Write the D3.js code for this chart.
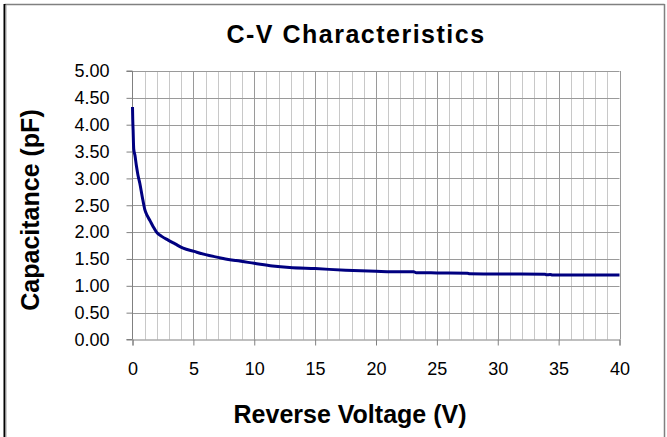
<!DOCTYPE html>
<html><head><meta charset="utf-8">
<script src="https://cdn.jsdelivr.net/npm/d3@7/dist/d3.min.js"></script>
<style>html,body{margin:0;padding:0;background:#fff;}svg{display:block;}</style>
</head><body>
<script>
const voltage = [0, 0.02, 0.05, 0.1, 0.2, 0.33, 0.45, 0.6, 0.8, 1.0, 1.2, 1.42, 1.7, 1.97, 2.4, 2.93, 3.5, 4.16, 5.06, 6.0, 7.45, 8.5, 10.0, 11.5, 12.9, 15, 17.5, 20, 22.0, 23.1, 23.3, 25, 27.5, 27.7, 30, 33.9, 34.0, 34.3, 34.5, 35, 37.5, 40];
const capacitance = [4.33, 4.10, 3.90, 3.55, 3.43, 3.22, 3.06, 2.91, 2.66, 2.43, 2.31, 2.22, 2.10, 2.00, 1.92, 1.85, 1.78, 1.70, 1.64, 1.58, 1.51, 1.47, 1.42, 1.37, 1.34, 1.32, 1.29, 1.27, 1.26, 1.26, 1.245, 1.24, 1.235, 1.225, 1.22, 1.215, 1.205, 1.21, 1.20, 1.20, 1.20, 1.20];
const xTicks = [0, 5, 10, 15, 20, 25, 30, 35, 40];
const yTicks = [0, 0.5, 1, 1.5, 2, 2.5, 3, 3.5, 4, 4.5, 5];
const title = "C-V Characteristics";
const xTitle = "Reverse Voltage (V)";
const yTitle = "Capacitance (pF)";

const W = 667, H = 437;
const svg = d3.select("body").append("svg").attr("width", W).attr("height", H);
const font = "Arial, 'Liberation Sans', sans-serif";

// outer frame
svg.append("line").attr("x1", 4.5).attr("x2", 664.5).attr("y1", 4.5).attr("y2", 4.5).attr("stroke", "#808080").attr("stroke-width", 1.5);
svg.append("line").attr("x1", 664.5).attr("x2", 664.5).attr("y1", 4).attr("y2", H).attr("stroke", "#808080").attr("stroke-width", 1.5);
svg.append("line").attr("x1", 4.5).attr("x2", 4.5).attr("y1", 4).attr("y2", H).attr("stroke", "#000").attr("stroke-width", 2);
svg.append("line").attr("x1", 6).attr("x2", 6).attr("y1", 5).attr("y2", H).attr("stroke", "#a0a0a0").attr("stroke-width", 1);

const x = d3.scaleLinear().domain([0, 40]).range([132.5, 619.5]);
const y = d3.scaleLinear().domain([0, 5]).range([339.5, 71]);

const g = svg.append("g");
// minor vertical grid
g.selectAll(".vmin").data(d3.range(1, 41).filter(v => v % 5 !== 0)).join("line")
  .attr("x1", d => Math.round(x(d)) + 0.5).attr("x2", d => Math.round(x(d)) + 0.5)
  .attr("y1", y(5)).attr("y2", y(0)).attr("stroke", "#c8c8c8").attr("stroke-width", 1);
// major vertical grid
g.selectAll(".vmaj").data(xTicks.slice(1)).join("line")
  .attr("x1", d => Math.round(x(d)) + 0.5).attr("x2", d => Math.round(x(d)) + 0.5)
  .attr("y1", y(5)).attr("y2", y(0)).attr("stroke", "#9a9a9a").attr("stroke-width", 1);
// horizontal grid
g.selectAll(".h").data(yTicks.slice(1)).join("line")
  .attr("x1", x(0)).attr("x2", x(40))
  .attr("y1", d => Math.round(y(d)) + 0.5).attr("y2", d => Math.round(y(d)) + 0.5)
  .attr("stroke", "#9a9a9a").attr("stroke-width", 1);

// axes
const xAxis = d3.axisBottom(x).tickValues(xTicks).tickSize(6).tickPadding(17).tickFormat(d3.format("d"));
const yAxis = d3.axisLeft(y).tickValues(yTicks).tickSize(6).tickPadding(17).tickFormat(d3.format(".2f"));
const gx = svg.append("g").attr("transform", `translate(0,${y(0)})`).call(xAxis);
const gy = svg.append("g").attr("transform", `translate(${x(0)},0)`).call(yAxis);
[gx, gy].forEach(a => {
  a.select(".domain").attr("stroke", "#808080").attr("stroke-width", 1);
  a.selectAll(".tick line").attr("stroke", "#808080");
  a.selectAll("text").attr("font-family", font).attr("font-size", 18).attr("fill", "#000");
});
gy.select(".domain").attr("d", `M-6,${y(5)}H0V${y(0)}H-6`);

// curve
const pts = voltage.map((v, i) => [v, capacitance[i]]);
svg.append("path").datum(pts)
  .attr("d", d3.line().curve(d3.curveMonotoneX).x(d => x(d[0])).y(d => y(d[1])))
  .attr("fill", "none").attr("stroke", "#000080").attr("stroke-width", 3).attr("stroke-linejoin", "round");

// titles
svg.append("text").attr("x", 356).attr("y", 43).attr("text-anchor", "middle")
  .attr("font-family", font).attr("font-weight", "bold").attr("font-size", 25).attr("letter-spacing", 1.5).text(title);
svg.append("text").attr("x", 350).attr("y", 423).attr("text-anchor", "middle")
  .attr("font-family", font).attr("font-weight", "bold").attr("font-size", 25).text(xTitle);
svg.append("text").attr("transform", "translate(39,210) rotate(-90)").attr("text-anchor", "middle")
  .attr("font-family", font).attr("font-weight", "bold").attr("font-size", 25).text(yTitle);
</script>
</body></html>
